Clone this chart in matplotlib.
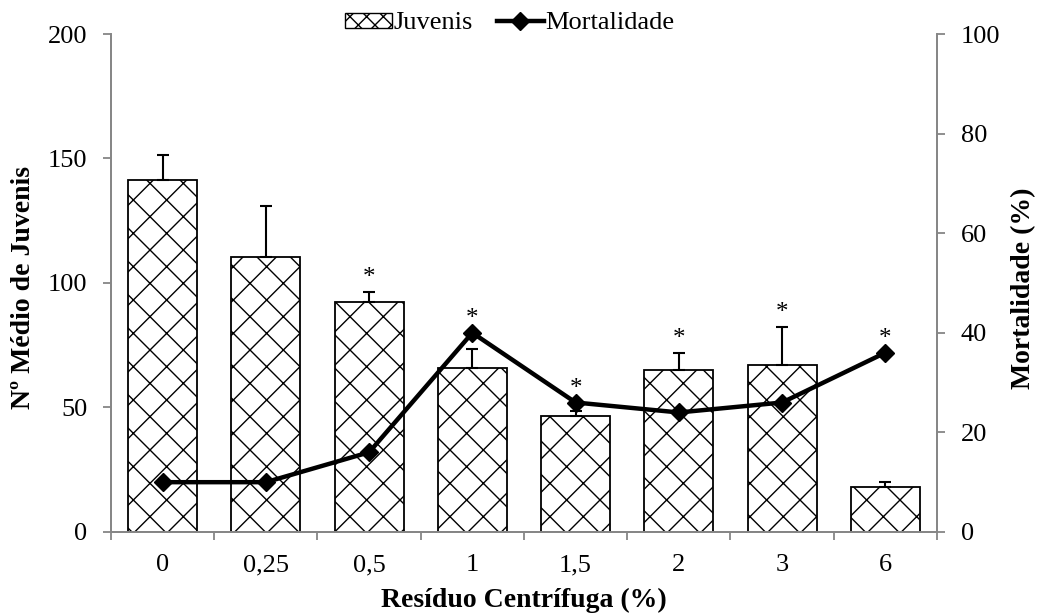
import matplotlib.pyplot as plt
import numpy as np
from matplotlib.patches import Patch
from matplotlib.lines import Line2D

# data
categorias = ['0', '0,25', '0,5', '1', '1,5', '2', '3', '6']
juvenis = [141.5, 110.5, 92.5, 66, 46.5, 65, 67, 18]
juvenis_erro = [10, 20.5, 4, 7.5, 2, 7, 15.5, 2]
mortalidade = [10, 10, 16, 40, 26, 24, 26, 36]
significativo = [False, False, True, True, True, True, True, True]

plt.rcParams['font.family'] = ['Liberation Serif', 'DejaVu Serif']
plt.rcParams['hatch.linewidth'] = 1.0
cinza = '#868686'

fig = plt.figure(figsize=(10.42, 6.16), dpi=100)
ax = fig.add_axes([0.1065, 0.1364, 0.7927, 0.8084])
ax2 = ax.twinx()
ax.set_zorder(1)
ax2.set_zorder(2)
ax2.patch.set_visible(False)

x = np.arange(len(categorias))
ax.bar(x, juvenis, width=0.67, color='white', edgecolor='black', linewidth=1.3,
       hatch='x', zorder=2)
ax.errorbar(x, juvenis, yerr=[np.zeros(len(x)), juvenis_erro], fmt='none',
            ecolor='black', elinewidth=1.5, capsize=4, capthick=1.5, zorder=3)

# asterisks above the bars (or above the line when it sits higher)
mort_left = np.array(mortalidade) * 2.0
for i, sig in enumerate(significativo):
    if sig:
        topo = max(juvenis[i] + juvenis_erro[i], mort_left[i])
        ax.text(x[i], topo + 1, '*', ha='center', va='bottom', fontsize=18)

ax2.plot(x, mortalidade, color='black', linewidth=3.2, marker='D', markersize=9,
         zorder=4)

ax.set_xlim(-0.5, len(x) - 0.5)
ax.set_ylim(0, 200)
ax2.set_ylim(0, 100)
ax.set_yticks([0, 50, 100, 150, 200])
ax2.set_yticks([0, 20, 40, 60, 80, 100])
ax.set_xticks(x)
ax.set_xticklabels(categorias)
ax.set_xticks(np.arange(-0.5, len(x)), minor=True)
ax.tick_params(axis='x', which='major', length=0, labelsize=19, pad=16)
ax.tick_params(axis='x', which='minor', length=6, color=cinza, width=1.3, direction='out')
ax.tick_params(axis='y', length=6, color=cinza, width=1.3, direction='out', labelsize=19, pad=11)
ax2.tick_params(axis='y', length=6, color=cinza, width=1.3, direction='out', labelsize=19, pad=11)

for a in (ax, ax2):
    a.spines['top'].set_visible(False)
    for s in ('left', 'right', 'bottom'):
        a.spines[s].set_color(cinza)
        a.spines[s].set_linewidth(1.3)

ax.set_xlabel('Resíduo Centrífuga (%)', fontsize=20, fontweight='bold', va='center')
ax.xaxis.set_label_coords(0.5, -0.137)
ax.set_ylabel('Nº Médio de Juvenis', fontsize=20, fontweight='bold', va='center')
ax.yaxis.set_label_coords(-0.1065, 0.49)
ax2.set_ylabel('Mortalidade (%)', fontsize=20, fontweight='bold', va='center')
ax2.yaxis.set_label_coords(1.105, 0.49)

handles = [Patch(facecolor='white', edgecolor='black', hatch='xx', linewidth=1),
           Line2D([], [], color='black', linewidth=3.2, marker='D', markersize=9)]
fig.legend(handles, ['Juvenis', 'Mortalidade'], loc='center', bbox_to_anchor=(0.489, 0.962),
           ncol=2, frameon=False, fontsize=19, handlelength=1.8, handleheight=0.5,
           handletextpad=0.05, columnspacing=0.9)

fig.savefig('out.png', dpi=100)
